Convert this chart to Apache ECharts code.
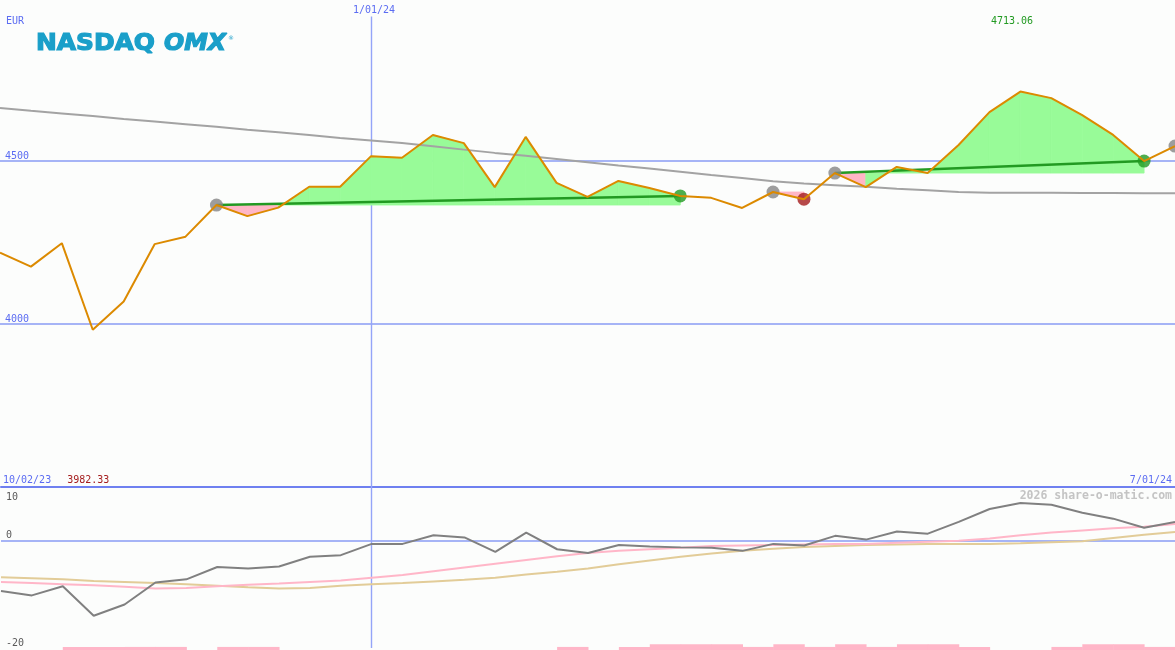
<!DOCTYPE html>
<html>
<head>
<meta charset="utf-8">
<script src="https://cdn.jsdelivr.net/npm/echarts@6/dist/echarts.min.js"></script>
<style>
html,body{margin:0;padding:0;background:#fcfdfc;}
#chart{width:1175px;height:650px;}
</style>
</head>
<body>
<div id="chart"></div>
<script>
// ---- data (weekly points) ----
const weeks = [0,1,2,3,4,5,6,7,8,9,10,11,12,13,14,15,16,17,18,19,20,21,22,23,24,25,26,27,28,29,30,31,32,33,34,35,36,37,38];
const price = [4219,4176,4248,3982.33,4069,4245,4268,4365,4331,4357,4421,4421,4515,4510,4580,4555,4420,4574,4433,4390,4439,4417,4393,4387,4356,4405,4383,4463,4420,4482,4463,4549,4650,4713.06,4693,4641,4580,4500,4546];
const movingAvg = [4663,4654,4646,4638,4629,4621,4613,4605,4596,4588,4580,4571,4563,4555,4545,4535,4525,4516,4506,4496,4486,4477,4467,4457,4448,4438,4431,4426,4421,4415,4410,4405,4403,4403,4403,4402,4402,4401,4401];
const oscGrey = [-9.4,-10.2,-8.5,-14.0,-11.9,-7.8,-7.2,-4.9,-5.2,-4.8,-3.0,-2.7,-0.6,-0.6,1.0,0.6,-2.1,1.5,-1.6,-2.3,-0.8,-1.1,-1.25,-1.3,-1.9,-0.6,-0.9,0.9,0.2,1.7,1.3,3.5,5.9,7.0,6.7,5.2,4.1,2.4,3.5];
const oscPink = [-7.7,-7.9,-8.1,-8.3,-8.6,-8.9,-8.8,-8.5,-8.2,-8.0,-7.7,-7.4,-6.9,-6.4,-5.7,-5.0,-4.3,-3.6,-2.9,-2.3,-1.9,-1.6,-1.3,-1.0,-0.9,-0.8,-0.7,-0.6,-0.6,-0.4,-0.2,0.0,0.4,1.0,1.5,1.9,2.3,2.6,3.1];
const oscTan = [-6.8,-7.0,-7.2,-7.5,-7.7,-7.9,-8.1,-8.4,-8.7,-8.9,-8.8,-8.4,-8.1,-7.9,-7.6,-7.3,-6.9,-6.3,-5.8,-5.2,-4.4,-3.7,-3.0,-2.4,-1.9,-1.5,-1.2,-1.0,-0.8,-0.7,-0.6,-0.6,-0.6,-0.5,-0.3,-0.1,0.5,1.1,1.6];
// histogram between week i and i+1
const barHeights = [0,0,0.6,0.6,0.6,0.6,0,0.6,0.6,0,0,0,0,0,0,0,0,0,0.6,0,0.6,1.1,1.1,1.1,0.6,1.1,0.6,1.1,0.6,1.1,1.1,0.6,0,0,0.6,1.1,1.1,0.6];
const tradeEntries = [7,25,27];
const tradeExits = [22,26,37];
const openSignals = [38];
// ---- ticks / labels ----
const mainTicks = [4500,4000];
const subTicks = [0,-20];
const subTopTick = [10];
const dateTicks = [0,38];
const dateLabels = ['10/02/23','7/01/24'];
const markerWeek = 12;
const markerLabel = '1/01/24';
const currency = 'EUR';

const C = {
  blue:'#5b6cf2', grid:'#a6b4f6', vline:'#94a4f8', sep:'#6f80f0', orange:'#dc8a00', ma:'#a3a3a3',
  fillUp:'#98fb98', fillDown:'#ffb6c6', trade:'#229a22', dotGrey:'#858585',
  dotGreen:'#229a22', dotRed:'#a41c1c', oscGrey:'#808080', oscPink:'#ffb6c8', oscTan:'#e2cc98'
};
const mono = 'DejaVu Sans Mono';

const maxVal = Math.max(...price), minVal = Math.min(...price);

// fill segments
const fillSegs = [];
tradeEntries.forEach((s, t) => { for (let i = s; i < tradeExits[t]; i++) fillSegs.push([i, t]); });
const tradeItems = tradeEntries.map((s, t) => [s, t]);
const dots = [];
tradeEntries.concat(openSignals).forEach(i => dots.push({value:[i, price[i]], itemStyle:{color:C.dotGrey}}));
tradeExits.forEach((e, t) => dots.push({value:[e, price[e]], itemStyle:{color: price[e] >= price[tradeEntries[t]] ? C.dotGreen : C.dotRed}}));

const plain = v => String(v);

const chart = echarts.init(document.getElementById('chart'), null, {renderer:'canvas'});
const option = {
  animation:false,
  backgroundColor:'#fcfdfc',
  grid:[
    {left:0, right:0, top:0, height:487, containLabel:false},
    {left:0, right:0, top:487, height:161, containLabel:false}
  ],
  xAxis:[
    {gridIndex:0, type:'value', min:0, max:38, show:false},
    {gridIndex:1, type:'value', min:0, max:38, position:'top',
     axisLine:{show:true, onZero:false, lineStyle:{color:C.sep, width:2}},
     axisTick:{show:false}, splitLine:{show:false},
     axisLabel:{show:true, customValues:dateTicks, margin:2, alignMinLabel:'left', alignMaxLabel:'right',
       fontFamily:mono, fontSize:10, color:C.blue,
       formatter:function(v){
         const k = dateTicks.indexOf(v);
         if (k === 0) return '{d|' + dateLabels[0] + '}{m|' + minVal.toFixed(2) + '}';
         return '{e|' + dateLabels[k] + '}';
       },
       rich:{
         d:{fontFamily:mono, fontSize:10, color:C.blue, padding:[0,0,0,2]},
         m:{fontFamily:mono, fontSize:10, color:'#a41c1c', padding:[0,0,0,16]},
         e:{fontFamily:mono, fontSize:10, color:C.blue, padding:[0,3,0,0]}
       }}}
  ],
  yAxis:[
    {gridIndex:0, type:'value', min:3500, max:4994, axisLine:{show:false}, axisTick:{show:false}, splitLine:{show:false},
     axisLabel:{inside:true, customValues:mainTicks, formatter:plain, verticalAlign:'bottom', margin:5, fontFamily:mono, fontSize:10, color:C.blue}},
    {gridIndex:1, type:'value', min:-20, max:10, axisLine:{show:false}, axisTick:{show:false}, splitLine:{show:false},
     axisLabel:{inside:true, customValues:subTicks, formatter:plain, verticalAlign:'bottom', margin:5, fontFamily:mono, fontSize:10, color:'#5a5a5a'}},
    {gridIndex:1, type:'value', min:-20, max:10, position:'left', axisLine:{show:false}, axisTick:{show:false}, splitLine:{show:false},
     axisLabel:{inside:true, customValues:subTopTick, formatter:plain, verticalAlign:'top', padding:[5,0,0,0], margin:5, fontFamily:mono, fontSize:10, color:'#5a5a5a'}}
  ],
  series:[
    {type:'line', name:'ma', xAxisIndex:0, yAxisIndex:0, z:3, symbol:'none',
     data:weeks.map(i => [i, movingAvg[i]]), lineStyle:{color:C.ma, width:2},
     markLine:{z:1, silent:true, symbol:['none','none'], animation:false,
       label:{show:false}, lineStyle:{color:C.grid, width:2, type:'solid'},
       data:[
         {yAxis:mainTicks[0]}, {yAxis:mainTicks[1]},
         [{coord:[markerWeek, 4943], lineStyle:{width:1.4, color:C.vline},
           label:{show:true, position:'start', distance:1, offset:[3,0], formatter:markerLabel, fontFamily:mono, fontSize:10, color:C.blue}},
          {coord:[markerWeek, 3500]}]
       ]}},
    {type:'custom', name:'fill', xAxisIndex:0, yAxisIndex:0, z:2, data:fillSegs,
     renderItem:function(params, api){
       const i = api.value(0), t = api.value(1);
       const entry = price[tradeEntries[t]];
       const b0 = api.coord([i, entry]), p0 = api.coord([i, price[i]]);
       const p1 = api.coord([i+1, price[i+1]]), b1 = api.coord([i+1, entry]);
       const col = price[i+1] >= entry ? C.fillUp : C.fillDown;
       return {type:'polygon', shape:{points:[b0,p0,p1,b1]},
               style:{fill:col, stroke:col, lineWidth:0.8}};
     }},
    {type:'custom', name:'tradeLines', xAxisIndex:0, yAxisIndex:0, z:3, data:tradeItems,
     renderItem:function(params, api){
       const s = api.value(0), t = api.value(1), e = tradeExits[t];
       if (price[e] < price[s]) return null;
       const a = api.coord([s, price[s]]), b = api.coord([e, price[e]]);
       return {type:'line', shape:{x1:a[0], y1:a[1], x2:b[0], y2:b[1]}, style:{stroke:C.trade, lineWidth:2.5}};
     }},
    {type:'scatter', name:'signals', xAxisIndex:0, yAxisIndex:0, z:4, symbol:'circle', symbolSize:13, data:dots},
    {type:'line', name:'price', xAxisIndex:0, yAxisIndex:0, z:5, symbol:'none',
     data:weeks.map(i => [i, price[i]]), lineStyle:{color:C.orange, width:2}},

    {type:'custom', name:'hist', xAxisIndex:1, yAxisIndex:1, z:2, data:barHeights.map((h,i) => [i, h]),
     renderItem:function(params, api){
       const i = api.value(0), h = api.value(1);
       if (!h) return null;
       const base = -20.4;
       const a = api.coord([i, base + h]), b = api.coord([i+1, base]);
       return {type:'rect', shape:{x:a[0], y:a[1], width:b[0]-a[0]+0.5, height:b[1]-a[1]}, style:{fill:C.oscPink}};
     }},
    {type:'line', name:'tan', xAxisIndex:1, yAxisIndex:1, z:3, symbol:'none',
     data:weeks.map(i => [i, oscTan[i]]), lineStyle:{color:C.oscTan, width:2},
     markLine:{z:1, silent:true, symbol:['none','none'], animation:false, label:{show:false},
       lineStyle:{color:C.grid, width:2, type:'solid'},
       data:[{yAxis:0}, {xAxis:markerWeek, lineStyle:{width:1.4, color:C.vline}}]}},
    {type:'line', name:'pink', xAxisIndex:1, yAxisIndex:1, z:3, symbol:'none',
     data:weeks.map(i => [i, oscPink[i]]), lineStyle:{color:C.oscPink, width:2}},
    {type:'line', name:'osc', xAxisIndex:1, yAxisIndex:1, z:4, symbol:'none',
     data:weeks.map(i => [i, oscGrey[i]]), lineStyle:{color:C.oscGrey, width:2}}
  ],
  graphic:[
    {type:'text', x:6, y:21.5, style:{text:currency, font:'10px "DejaVu Sans Mono"', fill:C.blue, verticalAlign:'middle'}},
    {type:'text', x:1012, y:21, style:{text:maxVal.toFixed(2), font:'10px "DejaVu Sans Mono"', fill:'#229a22', align:'center', verticalAlign:'middle'}},
    {type:'text', x:1172, y:496, style:{text:'2026 share-o-matic.com', font:'bold 11.5px "DejaVu Sans Mono"', fill:'#c4c4c4', align:'right', verticalAlign:'middle'}},
    {type:'text', x:36, y:44.5, scaleX:1.08, style:{text:'NASDAQ', font:'bold 23px "DejaVu Sans"', fill:'#1a9fc9', stroke:'#1a9fc9', lineWidth:1.2, verticalAlign:'middle'}},
    {type:'text', x:164, y:44.5, scaleX:1.03, style:{text:'OMX', font:'italic bold 23px "DejaVu Sans"', fill:'#1a9fc9', stroke:'#1a9fc9', lineWidth:1.2, verticalAlign:'middle'}},
    {type:'text', x:228, y:38, style:{text:'®', font:'6px "DejaVu Sans"', fill:'#1a9fc9', verticalAlign:'middle'}}
  ]
};
chart.setOption(option);
</script>
</body>
</html>
